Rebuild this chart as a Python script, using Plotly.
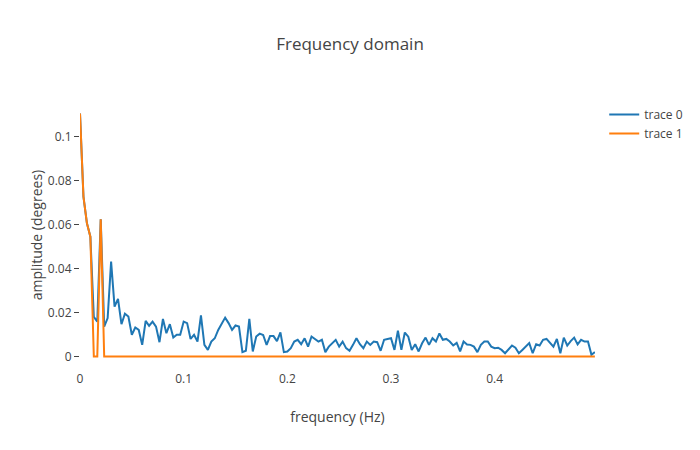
import plotly.graph_objects as go

n_points = 150
freq = [k / 300 for k in range(n_points)]

trace0_amp = [
    0.1106, 0.0727, 0.0607, 0.0545, 0.0180, 0.0159, 0.0624, 0.0136, 0.0175, 0.0432,
    0.0227, 0.0262, 0.0147, 0.0195, 0.0182, 0.0099, 0.0132, 0.0121, 0.0053, 0.0162,
    0.0140, 0.0159, 0.0136, 0.0065, 0.0171, 0.0106, 0.0147, 0.0086, 0.0099, 0.0099,
    0.0159, 0.0152, 0.0080, 0.0099, 0.0068, 0.0187, 0.0053, 0.0030, 0.0068, 0.0083,
    0.0121, 0.0152, 0.0177, 0.0152, 0.0121, 0.0141, 0.0136, 0.0020, 0.0026, 0.0171,
    0.0023, 0.0091, 0.0104, 0.0098, 0.0053, 0.0093, 0.0093, 0.0070, 0.0110, 0.0020,
    0.0023, 0.0038, 0.0068, 0.0076, 0.0056, 0.0083, 0.0045, 0.0091, 0.0080, 0.0068,
    0.0076, 0.0020, 0.0045, 0.0061, 0.0076, 0.0045, 0.0068, 0.0038, 0.0026, 0.0053,
    0.0083, 0.0056, 0.0038, 0.0068, 0.0053, 0.0068, 0.0065, 0.0026, 0.0076, 0.0080,
    0.0083, 0.0030, 0.0117, 0.0030, 0.0109, 0.0090, 0.0030, 0.0056, 0.0023, 0.0060,
    0.0086, 0.0053, 0.0083, 0.0068, 0.0105, 0.0076, 0.0080, 0.0068, 0.0050, 0.0062,
    0.0023, 0.0068, 0.0055, 0.0053, 0.0045, 0.0020, 0.0053, 0.0068, 0.0068, 0.0045,
    0.0038, 0.0040, 0.0030, 0.0015, 0.0035, 0.0050, 0.0040, 0.0015, 0.0030, 0.0045,
    0.0061, 0.0015, 0.0056, 0.0050, 0.0076, 0.0080, 0.0060, 0.0045, 0.0080, 0.0015,
    0.0086, 0.0050, 0.0070, 0.0086, 0.0055, 0.0076, 0.0068, 0.0068, 0.0008, 0.0020,
]

trace1_amp = [0.1106, 0.0727, 0.0607, 0.0545, 0.0, 0.0, 0.0624] + [0.0] * (n_points - 7)

fig = go.Figure()
fig.add_trace(go.Scatter(x=freq, y=trace0_amp, mode="lines", name="trace 0",
                         line=dict(color="#1f77b4", width=2)))
fig.add_trace(go.Scatter(x=freq, y=trace1_amp, mode="lines", name="trace 1",
                         line=dict(color="#ff7f0e", width=2)))

fig.update_layout(
    template="none",
    width=700, height=450,
    margin=dict(l=80, r=80, t=100, b=80),
    paper_bgcolor="white", plot_bgcolor="white",
    font=dict(family="Open Sans, sans-serif", color="#444", size=12),
    title=dict(text="Frequency domain", x=0.5, xanchor="center", font=dict(size=17)),
    xaxis=dict(title=dict(text="frequency (Hz)", font=dict(size=14)),
               domain=[0, 0.994],
               showgrid=False, zeroline=False, showline=False, ticks="",
               tickvals=[0, 0.1, 0.2, 0.3, 0.4], ticktext=["0", "0.1", "0.2", "0.3", "0.4"]),
    yaxis=dict(title=dict(text="amplitude (degrees)", font=dict(size=14)),
               showgrid=False, zeroline=False, showline=False, ticks="outside",
               ticklen=5, tickcolor="#444"),
    legend=dict(font=dict(size=12), x=1.012, y=1),
    showlegend=True,
)

fig.write_html("out.html")
